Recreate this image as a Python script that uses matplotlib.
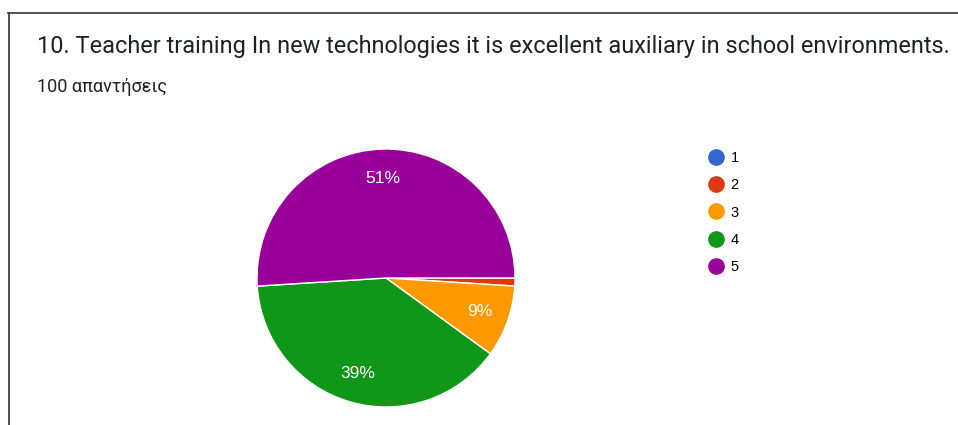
import matplotlib.pyplot as plt
from matplotlib.lines import Line2D

# answers on the 1..5 scale, 100 responses
answers = ['1', '2', '3', '4', '5']
counts = [0, 1, 9, 39, 51]
colors = ['#3366cc', '#dc3912', '#ff9900', '#109618', '#990099']

title = '10. Teacher training In new technologies it is excellent auxiliary in school environments.'
subtitle = '100 απαντήσεις'

W, H = 958, 425
fig = plt.figure(figsize=(W / 100, H / 100), dpi=100)

# frame lines on the top and left
fig.add_artist(Line2D([8 / W, 1], [1 - 12.5 / H, 1 - 12.5 / H], color='#333333', lw=1.2))
fig.add_artist(Line2D([8.5 / W, 8.5 / W], [0, 1 - 12.5 / H], color='#333333', lw=1.2))

fig.text(37 / W, 1 - 47 / H, title, fontsize=16.9, family='Roboto', color='#202124', va='center')
fig.text(37 / W, 1 - 87 / H, subtitle, fontsize=13, family='Roboto', color='#202124', va='center')

# pie centred at (386, 278) px, radius 129 px
cx, cy, r = 386, 278, 129
ax = fig.add_axes([(cx - r) / W, (H - cy - r) / H, 2 * r / W, 2 * r / H])


def pct(p):
    return f'{p:.0f}%' if p >= 5 else ''


wedges, texts, autotexts = ax.pie(
    counts, colors=colors, startangle=0, counterclock=False,
    autopct=pct, pctdistance=0.77,
    wedgeprops=dict(edgecolor='white', linewidth=1),
    textprops=dict(color='white', fontsize=12.5, family='Liberation Sans'))
ax.set_xlim(-1, 1)
ax.set_ylim(-1, 1)

handles = [Line2D([], [], marker='o', linestyle='none', markersize=11,
                  markerfacecolor=c, markeredgecolor=c) for c in colors]
fig.legend(handles, answers, loc='upper left', bbox_to_anchor=(700 / W, 1 - 144 / H),
           frameon=False, handletextpad=0.4, labelspacing=0.9,
           handlelength=1.2, borderpad=0, prop=dict(family='Liberation Sans', size=10.5))

fig.savefig('out.png', dpi=100)
